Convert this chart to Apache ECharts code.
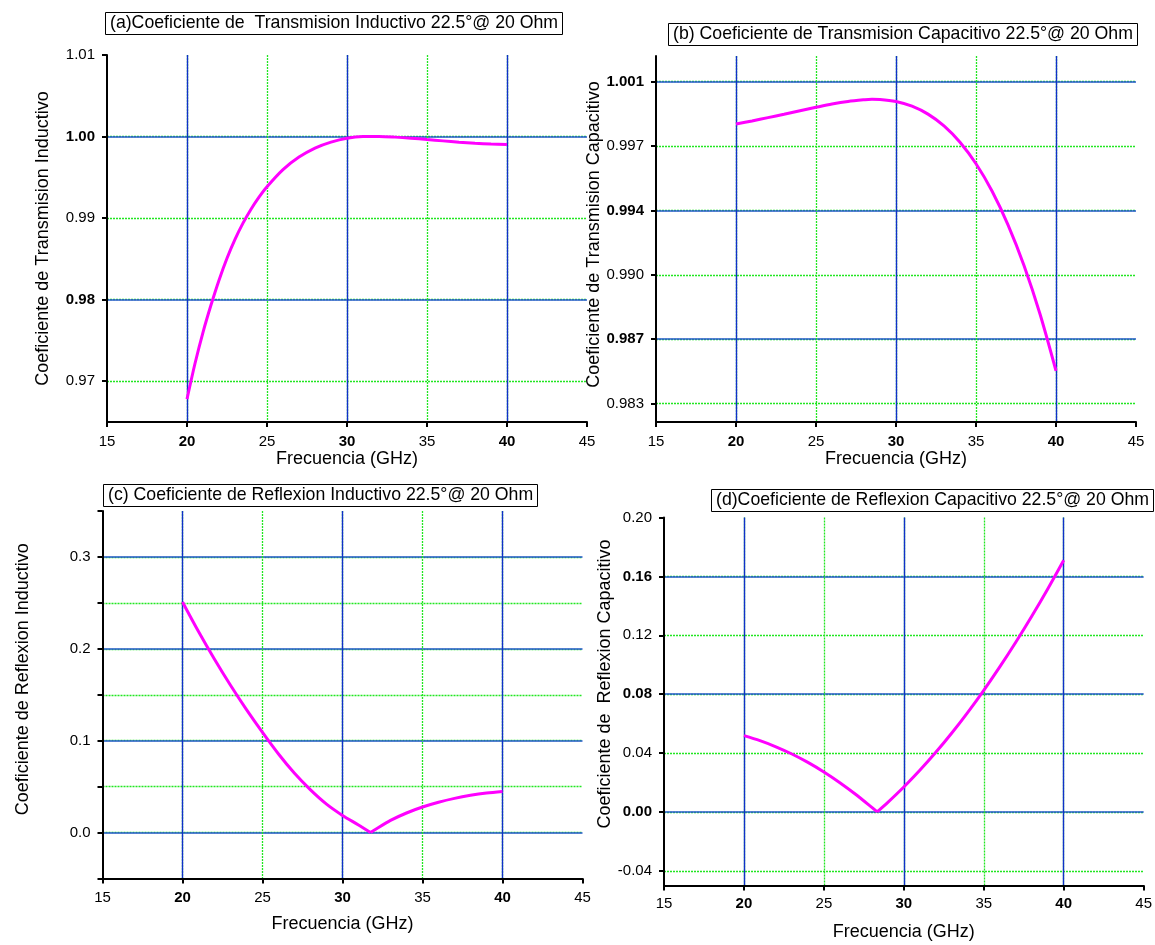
<!DOCTYPE html>
<html><head><meta charset="utf-8">
<script src="https://cdn.jsdelivr.net/npm/echarts@6/dist/echarts.min.js"></script>
<style>html,body{margin:0;padding:0;background:#fff}#c{width:1155px;height:945px}</style>
</head><body><div id="c"></div>
<script>
const FONT = '"Liberation Sans", Arial, sans-serif';

// ---- shared frequency axis ----
const freqTicks = [15, 20, 25, 30, 35, 40, 45];
const freqMajor = [20, 30, 40];

// ---- (a) Transmision Inductivo ----
const freqA = [20, 20.5, 21, 21.5, 22, 22.5, 23, 23.5, 24, 24.5, 25, 26, 27, 28, 29, 30, 31, 32, 33, 34, 35, 36, 37, 38, 39, 40];
const transA = [0.9678, 0.97217, 0.97600, 0.97934, 0.98239, 0.98508, 0.98739, 0.98938, 0.99109, 0.99257, 0.99385, 0.99595, 0.99748, 0.99859, 0.99932, 0.99980, 1.00000, 1.00001, 0.99993, 0.99980, 0.99963, 0.99947, 0.99931, 0.99918, 0.99908, 0.99902];
const ticksA = [0.97, 0.98, 0.99, 1.00, 1.01];
const labelsA = ['0.97', '0.98', '0.99', '1.00', '1.01'];
const majorA = [0.98, 1.00];

// ---- (b) Transmision Capacitivo ----
const freqB = [20, 21, 22, 23, 24, 25, 26, 27, 28, 28.5, 29, 30, 31, 32, 33, 34, 35, 36, 37, 38, 39, 40];
const transB = [0.9982, 0.99837, 0.99855, 0.99873, 0.99892, 0.99911, 0.99929, 0.99943, 0.99952, 0.99955, 0.99954, 0.99943, 0.99917, 0.99874, 0.9981, 0.99721, 0.99604, 0.99456, 0.99272, 0.99051, 0.98787, 0.98478];
const ticksB = [0.983, 0.9865, 0.990, 0.9935, 0.997, 1.0005];
const labelsB = ['0.983', '0.987', '0.990', '0.994', '0.997', '1.001'];
const majorB = [0.9865, 0.9935, 1.0005];

// ---- (c) Reflexion Inductivo ----
const freqC = [20, 21, 22, 23, 24, 25, 26, 27, 28, 29, 30, 31, 31.75, 32, 33, 34, 35, 36, 37, 38, 39, 40];
const reflC = [0.251, 0.2188, 0.1886, 0.1603, 0.1338, 0.109, 0.0855, 0.0645, 0.0465, 0.031, 0.0187, 0.0082, 0.0, 0.0028, 0.0132, 0.0213, 0.0278, 0.033, 0.0372, 0.0405, 0.043, 0.0447];
const ticksC = [-0.05, 0, 0.05, 0.1, 0.15, 0.2, 0.25, 0.3, 0.35];
const labelTicksC = [0, 0.1, 0.2, 0.3];
const labelsC = ['0.0', '0.1', '0.2', '0.3'];
const majorC = [0, 0.1, 0.2, 0.3];

// ---- (d) Reflexion Capacitivo ----
const freqD = [20, 21, 22, 23, 24, 25, 26, 27, 28, 28.33, 29, 30, 31, 32, 33, 34, 35, 36, 37, 38, 39, 40];
const reflD = [0.0518, 0.04841, 0.04425, 0.03932, 0.03361, 0.02713, 0.01987, 0.01184, 0.00303, 0.0, 0.00648, 0.0169, 0.02823, 0.04047, 0.05361, 0.06766, 0.08261, 0.09848, 0.11525, 0.13292, 0.15149, 0.171];
const ticksD = [-0.04, 0, 0.04, 0.08, 0.12, 0.16, 0.20];
const labelsD = ['-0.04', '0.00', '0.04', '0.08', '0.12', '0.16', '0.20'];
const majorD = [0, 0.08, 0.16];

const titles = [
  '(a)Coeficiente de  Transmision Inductivo 22.5°@ 20 Ohm',
  '(b) Coeficiente de Transmision Capacitivo 22.5°@ 20 Ohm',
  '(c) Coeficiente de Reflexion Inductivo 22.5°@ 20 Ohm',
  '(d)Coeficiente de Reflexion Capacitivo 22.5°@ 20 Ohm'
];
const yNames = [
  'Coeficiente de Transmision Inductivo',
  'Coeficiente de Transmision Capacitivo',
  'Coeficiente de Reflexion Inductivo',
  'Coeficiente de  Reflexion Capacitivo'
];
const xName = 'Frecuencia (GHz)';

const BLUE_H = '#2456cc', BLUE_V = '#1030c8', GREEN = '#22e622';
const near = (a, b) => Math.abs(a - b) < 1e-9;
const inList = (v, arr) => arr.some(t => near(t, v));
const rich = { b: { fontWeight: 'bold', fontSize: 15, color: '#000', fontFamily: FONT } };

const panels = [
  { x: freqA, y: transA, ticks: ticksA, labelTicks: ticksA, labels: labelsA, major: majorA, bold: true,
    min: 0.965, max: 1.01, grid: { left: 107, top: 55, width: 480, height: 367 },
    title: { left: 105, top: 12 }, yGap: 55, yPad: 0, xGap: 27, xMargin: 12, smooth: 0.3, split: false,
    showMin: true, showMax: false },
  { x: freqB, y: transB, ticks: ticksB, labelTicks: ticksB, labels: labelsB, major: majorB, bold: true,
    min: 0.982, max: 1.0019, grid: { left: 656, top: 56, width: 480, height: 366 },
    title: { left: 668, top: 23 }, yGap: 50, yPad: 9, xGap: 27, xMargin: 12, smooth: 0.3, split: false,
    showMin: true, showMax: true },
  { x: freqC, y: reflC, ticks: ticksC, labelTicks: labelTicksC, labels: labelsC, major: majorC, bold: false,
    min: -0.05, max: 0.35, grid: { left: 102.5, top: 511, width: 480, height: 367.5 },
    title: { left: 103, top: 484 }, yGap: 70, yPad: 31, xGap: 37, xMargin: 12, smooth: 0.3, split: true,
    showMin: false, showMax: false },
  { x: freqD, y: reflD, ticks: ticksD, labelTicks: ticksD, labels: labelsD, major: majorD, bold: true,
    min: -0.05, max: 0.20, grid: { left: 664, top: 517.5, width: 480, height: 368 },
    title: { left: 711, top: 489 }, yGap: 45, yPad: 35, xGap: 38, xMargin: 11, smooth: 0.3, split: true,
    showMin: true, showMax: false }
];

const option = { animation: false, backgroundColor: '#fff', title: [], grid: [], xAxis: [], yAxis: [], series: [] };

panels.forEach((p, i) => {
  option.grid.push(Object.assign({ containLabel: false }, p.grid));
  option.title.push({
    text: titles[i], left: p.title.left, top: p.title.top,
    borderColor: '#000', borderWidth: 1, backgroundColor: '#fff', padding: [2, 5, 2, 5],
    textStyle: { fontFamily: FONT, fontSize: 17.7, fontWeight: 'normal', color: '#000', lineHeight: 19 }
  });
  // visible x axis with minor (green) grid
  option.xAxis.push({
    type: 'value', gridIndex: i, min: 15, max: 45, interval: 5,
    name: xName, nameLocation: 'middle', nameGap: p.xGap,
    nameTextStyle: { fontFamily: FONT, fontSize: 18, color: '#000' },
    axisLine: { show: true, onZero: false, lineStyle: { color: '#000', width: 2 } },
    axisTick: { show: true, inside: false, length: 5, lineStyle: { color: '#000', width: 2 } },
    axisLabel: {
      margin: p.xMargin, fontFamily: FONT, fontSize: 15, color: '#000',
      showMinLabel: true, showMaxLabel: true, rich: rich,
      formatter: v => inList(v, freqMajor) ? '{b|' + v + '}' : String(v)
    },
    splitLine: { show: true, showMinLine: false, showMaxLine: false,
      lineStyle: { color: GREEN, width: 1.3, type: [2, 1] } }
  });
  // overlay x axis with major (blue) grid
  option.xAxis.push({
    type: 'value', gridIndex: i, min: 15, max: 45,
    axisLine: { show: false }, axisLabel: { show: false },
    axisTick: { show: false, customValues: freqMajor },
    splitLine: { show: true, showMinLine: true, showMaxLine: true,
      lineStyle: { color: BLUE_V, width: 1.4, type: 'solid' } }
  });
  // visible y axis with minor (green) grid
  option.yAxis.push({
    type: 'value', gridIndex: i, min: p.min, max: p.max,
    name: yNames[i], nameLocation: 'middle', nameGap: p.yGap,
    nameTextStyle: { fontFamily: FONT, fontSize: 18, color: '#000', padding: [0, 0, 0, p.yPad] },
    axisLine: { show: true, onZero: false, lineStyle: { color: '#000', width: 2 } },
    axisTick: { show: true, inside: false, length: 5, customValues: p.ticks, lineStyle: { color: '#000', width: 2 } },
    axisLabel: {
      margin: 12, fontFamily: FONT, fontSize: 15, color: '#000', customValues: p.labelTicks, rich: rich,
      formatter: v => {
        const k = p.labelTicks.findIndex(t => near(t, v));
        const s = k >= 0 ? p.labels[k] : String(v);
        return (p.bold && inList(v, p.major)) ? '{b|' + s + '}' : s;
      }
    },
    splitLine: { show: true, showMinLine: p.showMin, showMaxLine: p.showMax,
      lineStyle: { color: GREEN, width: 1.3, type: [2, 1] } }
  });
  // overlay y axis with major (blue) grid
  option.yAxis.push({
    type: 'value', gridIndex: i, min: p.min, max: p.max,
    axisLine: { show: false }, axisLabel: { show: false },
    axisTick: { show: false, customValues: p.major },
    splitLine: { show: true, showMinLine: true, showMaxLine: true,
      lineStyle: { color: BLUE_H, width: 1.6, type: 'solid' } }
  });
  const pts = p.x.map((f, k) => [f, p.y[k]]);
  // reflection curves have a sharp minimum: draw each side separately so smoothing keeps the corner
  let parts = [pts];
  if (p.split) {
    let m = 0;
    p.y.forEach((v, k) => { if (v < p.y[m]) m = k; });
    parts = [pts.slice(0, m + 1), pts.slice(m)];
  }
  parts.forEach(d => option.series.push({
    type: 'line', xAxisIndex: 2 * i, yAxisIndex: 2 * i,
    data: d, showSymbol: false, smooth: p.smooth, z: 5,
    lineStyle: { color: '#ff00ff', width: 3 }
  }));
});

const chart = echarts.init(document.getElementById('c'), null, { renderer: 'canvas' });
chart.setOption(option);
</script>
</body></html>
